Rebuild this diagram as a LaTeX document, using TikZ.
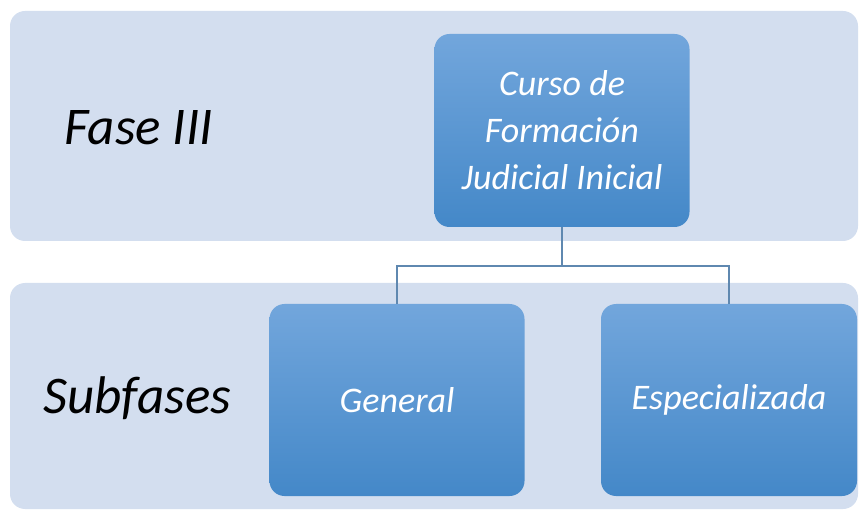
\documentclass[tikz,border=0pt]{standalone}
\usepackage{fontspec}
\setmainfont{Carlito}
\definecolor{bandfill}{HTML}{D3DEEF}
\definecolor{boxtop}{HTML}{72A6DC}
\definecolor{boxbot}{HTML}{4488C8}
\definecolor{linkcol}{HTML}{5F88B0}
\tikzset{
  band/.style={fill=bandfill, draw=none, rounded corners=15pt},
  bluebox/.style={rectangle, rounded corners=15pt, top color=boxtop, bottom color=boxbot, draw=none,
    text=white, font=\fontsize{36}{47}\selectfont\itshape, align=center, inner sep=0pt},
  bandlabel/.style={font=\fontsize{53}{64}\selectfont\itshape, text=black, anchor=base west, inner sep=0pt},
  link/.style={draw=linkcol, line width=1.3pt}
}
\begin{document}
\begin{tikzpicture}[x=1pt,y=-1pt]
\useasboundingbox (0,0) rectangle (859,510);
\clip (0,0) rectangle (859,510);
\fill[band] (10,11) rectangle (858,241);
\fill[band] (10,283) rectangle (858,509);
\node[bandlabel] (fase) at (64,145) {Fase III};
\node[bandlabel] (sub) at (43,413) {Subfases};
\node[bluebox, minimum width=255pt, minimum height=193pt] (curso) at (562,130.5) {Curso de\\Formación\\Judicial Inicial};
\node[bluebox, minimum width=255pt, minimum height=192pt] (gen) at (397,400) {General};
\node[bluebox, minimum width=256pt, minimum height=192pt] (esp) at (729,400) {Especializada};
\coordinate (ylev) at (0,266);
\coordinate (mid) at (curso.south |- ylev);
\draw[link] (curso.south) -- (mid);
\draw[link] (mid) -| (gen.north);
\draw[link] (mid) -| (esp.north);
\end{tikzpicture}
\end{document}
